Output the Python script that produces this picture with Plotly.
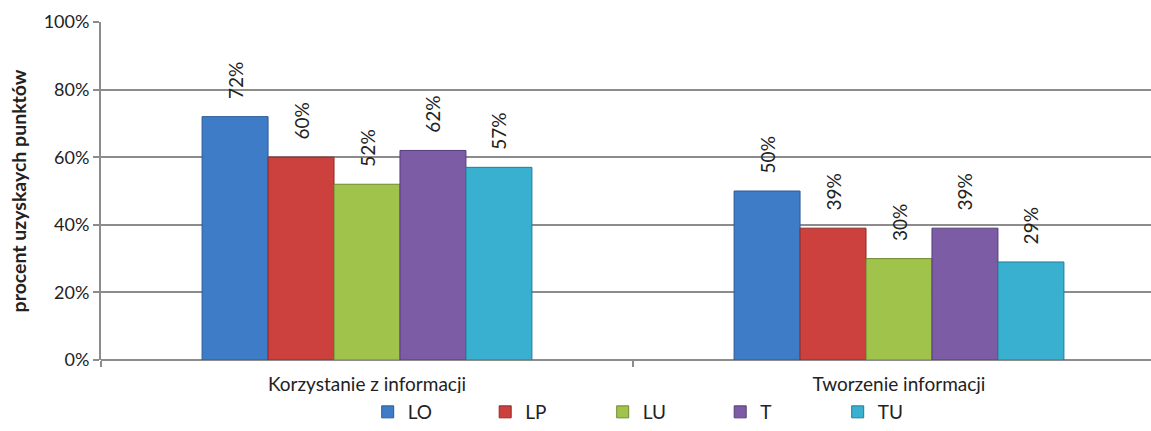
import plotly.graph_objects as go

kategorie = ["Korzystanie z informacji", "Tworzenie informacji"]
grupy = ["LO", "LP", "LU", "T", "TU"]
LO = [0.72, 0.50]
LP = [0.60, 0.39]
LU = [0.52, 0.30]
T = [0.62, 0.39]
TU = [0.57, 0.29]
y_ticks = [0, 0.2, 0.4, 0.6, 0.8, 1.0]

wartosci = [LO, LP, LU, T, TU]
kolory = ["#3E7CC8", "#CC403D", "#A0C34B", "#7D5CA6", "#3AB0D0"]
obrys = ["#2A5A96", "#8E2B29", "#6F8A30", "#553E77", "#237C95"]
FONT = "Lato"

pozycje = list(range(len(kategorie)))

fig = go.Figure()
for nazwa, vals, kol, ob in zip(grupy, wartosci, kolory, obrys):
    fig.add_trace(go.Bar(
        x=pozycje, y=vals, name=nazwa,
        marker=dict(color=kol, line=dict(color=ob, width=1)),
        text=[f"\u00a0\u00a0\u00a0{v*100:.0f}%" for v in vals],
        textposition="outside", textangle=-90, constraintext="none",
        textfont=dict(family=FONT, size=19, color="#222"),
        cliponaxis=False,
    ))

fig.update_layout(
    width=1151, height=431,
    margin=dict(l=101, r=0, t=22, b=71),
    paper_bgcolor="white", plot_bgcolor="white",
    barmode="group", bargap=0.38, bargroupgap=0,
    font=dict(family=FONT, size=19, color="#222"),
    showlegend=True,
    legend=dict(orientation="h", x=0.534, xanchor="center", xref="paper",
                y=0.0, yanchor="bottom", yref="container", entrywidth=72.5,
                font=dict(family=FONT, size=19, color="#222"),
                itemwidth=30, tracegroupgap=0),
    xaxis=dict(
        range=[-0.5, -0.5 + 1050 / 532],
        tickmode="array", tickvals=pozycje, ticktext=kategorie,
        ticks="", showgrid=False, zeroline=False,
        showline=False, automargin=False, ticklabelstandoff=11,
        tickfont=dict(family=FONT, size=19, color="#222"),
        minor=dict(tickmode="array", tickvals=[-0.5, 0.5, 1.5], ticks="outside",
                   ticklen=6, tickwidth=2, tickcolor="#8c8c8c", showgrid=False),
        fixedrange=True,
    ),
    yaxis=dict(
        range=[0, 1], tickmode="array", tickvals=y_ticks, tickformat=".0%",
        showgrid=True, gridcolor="#8c8c8c", gridwidth=2,
        showline=True, linecolor="#8c8c8c", linewidth=2,
        ticks="outside", ticklen=6, tickwidth=2, tickcolor="#8c8c8c",
        zeroline=True, zerolinecolor="#8c8c8c", zerolinewidth=2,
        automargin=False,
        tickfont=dict(family=FONT, size=18, color="#222"),
        title=dict(text="<b>procent uzyskaych punktów</b>",
                   font=dict(family=FONT, size=19.5, color="#222"), standoff=12),
    ),
)

fig.write_html(
    "out.html",
    config={"displayModeBar": False},
    post_script="document.body.style.margin='0';document.body.style.overflow='hidden';",
)
